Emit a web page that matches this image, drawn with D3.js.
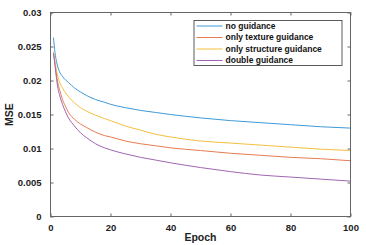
<!DOCTYPE html>
<html>
<head>
<meta charset="utf-8">
<script src="https://cdn.jsdelivr.net/npm/d3@7"></script>
<style>
  body { margin: 0; background: #fff; }
  text { font-family: "Liberation Sans", Arial, sans-serif; font-weight: bold; }
</style>
</head>
<body>
<div id="chart"></div>
<script>
const epochs = [1, 1.5, 2, 2.5, 3, 4, 5, 6, 8, 10, 12, 15, 18, 20, 25, 30, 35, 40, 50, 60, 70, 80, 90, 100];

const noGuidance        = [0.0263, 0.0241, 0.0228, 0.0219, 0.0213, 0.0206, 0.0201, 0.0197, 0.0189, 0.0183, 0.0178, 0.0172, 0.0168, 0.0165, 0.0160, 0.0156, 0.0153, 0.0150, 0.0145, 0.0141, 0.0138, 0.0135, 0.0132, 0.0130];
const textureGuidance   = [0.0240, 0.0225, 0.0208, 0.0195, 0.0187, 0.0172, 0.0162, 0.0153, 0.0143, 0.0136, 0.0131, 0.0124, 0.0119, 0.0117, 0.0111, 0.0107, 0.0104, 0.0101, 0.0097, 0.0093, 0.0090, 0.0087, 0.0085, 0.0082];
const structureGuidance = [0.0242, 0.0228, 0.0215, 0.0205, 0.0198, 0.0189, 0.0182, 0.0176, 0.0167, 0.0160, 0.0155, 0.0149, 0.0144, 0.0141, 0.0133, 0.0127, 0.0121, 0.0117, 0.0111, 0.0108, 0.0105, 0.0102, 0.0099, 0.0097];
const doubleGuidance    = [0.0240, 0.0222, 0.0203, 0.0188, 0.0179, 0.0165, 0.0154, 0.0145, 0.0133, 0.0123, 0.0116, 0.0107, 0.0101, 0.0098, 0.0092, 0.0087, 0.0083, 0.0079, 0.0072, 0.0066, 0.0061, 0.0058, 0.0055, 0.0052];

const seriesNames = ["no guidance", "only texture guidance", "only structure guidance", "double guidance"];
const seriesValues = [noGuidance, textureGuidance, structureGuidance, doubleGuidance];
const seriesColors = ["#3f99d8", "#e67c52", "#f4c03e", "#a265b3"];

const xTicks = [0, 20, 40, 60, 80, 100];
const yTicks = [0, 0.005, 0.01, 0.015, 0.02, 0.025, 0.03];
const yTickLabels = ["0", "0.005", "0.01", "0.015", "0.02", "0.025", "0.03"];

const margin = {top: 12.5, right: 15, bottom: 28, left: 50.5},
    width = 300,
    height = 204;

const svg = d3.select("#chart")
  .append("svg")
    .attr("width", 366)
    .attr("height", 245)
  .append("g")
    .attr("transform", `translate(${margin.left},${margin.top})`);

const x = d3.scaleLinear().domain([0, 100]).range([0, width]);
const y = d3.scaleLinear().domain([0, 0.03]).range([height, 0]);

const axisColor = "#666";

// ticks on all four sides, pointing inward
function styleAxis(g) {
  g.select(".domain").remove();
  g.selectAll(".tick line").attr("stroke", axisColor);
  g.selectAll(".tick text").attr("fill", "#222").style("font-size", "9.5px");
}

svg.append("g")
  .attr("transform", `translate(0,${height})`)
  .call(d3.axisBottom(x).tickValues(xTicks).tickSize(-3).tickPadding(8).tickFormat(d3.format("d")))
  .call(styleAxis);

svg.append("g")
  .call(d3.axisTop(x).tickValues(xTicks).tickSize(-3).tickFormat(""))
  .call(styleAxis);

svg.append("g")
  .call(d3.axisLeft(y).tickValues(yTicks).tickSize(-3).tickPadding(9).tickFormat((d, i) => yTickLabels[i]))
  .call(styleAxis);

svg.append("g")
  .attr("transform", `translate(${width},0)`)
  .call(d3.axisRight(y).tickValues(yTicks).tickSize(-3).tickFormat(""))
  .call(styleAxis);

// lines
const line = d3.line()
  .x((d, i) => x(epochs[i]))
  .y(d => y(d))
  .curve(d3.curveMonotoneX);

svg.append("g")
  .selectAll("path")
  .data(seriesValues)
  .join("path")
    .attr("fill", "none")
    .attr("stroke", (d, i) => seriesColors[i])
    .attr("stroke-width", 1)
    .attr("d", line);

// box
svg.append("rect")
  .attr("width", width)
  .attr("height", height)
  .attr("fill", "none")
  .attr("stroke", axisColor)
  .attr("stroke-width", 1);

// axis titles
svg.append("text")
  .attr("x", width / 2)
  .attr("y", height + 24)
  .attr("text-anchor", "middle")
  .style("font-size", "10.5px")
  .attr("fill", "#222")
  .text("Epoch");

svg.append("text")
  .attr("transform", `translate(${-38},${height / 2}) rotate(-90)`)
  .attr("text-anchor", "middle")
  .style("font-size", "10.5px")
  .attr("fill", "#222")
  .text("MSE");

// legend
const legend = svg.append("g")
  .attr("transform", `translate(${194 - margin.left},${20.5 - margin.top})`);

legend.append("rect")
  .attr("width", 148)
  .attr("height", 45)
  .attr("fill", "#fff")
  .attr("stroke", "#333")
  .attr("stroke-width", 0.8);

const rows = legend.selectAll("g.row")
  .data(seriesNames)
  .join("g")
    .attr("class", "row")
    .attr("transform", (d, i) => `translate(0,${5.5 + i * 11.5})`);

rows.append("line")
  .attr("x1", 2.5)
  .attr("x2", 28.5)
  .attr("stroke", (d, i) => seriesColors[i])
  .attr("stroke-width", 1);

rows.append("text")
  .attr("x", 31.5)
  .attr("dy", "0.35em")
  .style("font-size", "8.5px")
  .attr("fill", "#111")
  .text(d => d);
</script>
</body>
</html>
